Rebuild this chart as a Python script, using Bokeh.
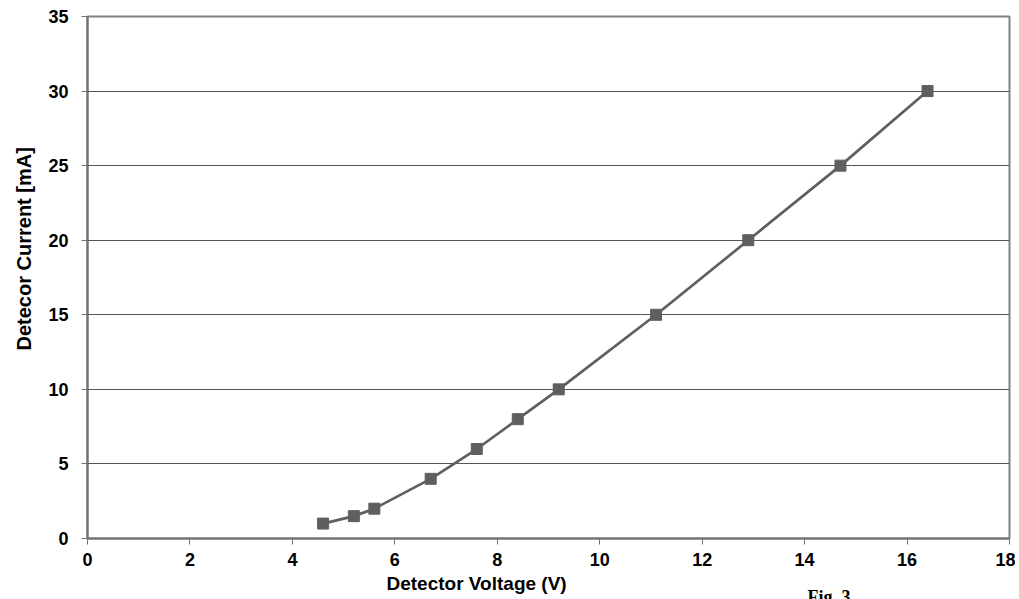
from bokeh.plotting import figure
from bokeh.models import Range1d, FixedTicker, Title
from bokeh.embed import file_html
from bokeh.resources import INLINE

voltage = [4.6, 5.2, 5.6, 6.7, 7.6, 8.4, 9.2, 11.1, 12.9, 14.7, 16.4]
current = [1, 1.5, 2, 4, 6, 8, 10, 15, 20, 25, 30]
x_ticks = [0, 2, 4, 6, 8, 10, 12, 14, 16, 18]
y_ticks = [0, 5, 10, 15, 20, 25, 30, 35]

W = 1015
H = 599
FL, FT, FB, FR = 86, 16, 538, 1009  # frame edges on the page

p = figure(width=W, height=H, output_backend="svg", toolbar_location=None,
           x_range=Range1d(0, 18), y_range=Range1d(0, 35),
           min_border_left=FL, min_border_top=FT, min_border_right=W - FR,
           min_border_bottom=H - FB)

p.line(voltage, current, line_color="#5f5f5f", line_width=2.7)
p.scatter(voltage, current, marker="square", size=11, fill_color="#5f5f5f", line_color="#5f5f5f")

p.outline_line_color = "#808080"
p.outline_line_width = 2

p.xgrid.grid_line_color = None
p.ygrid.grid_line_color = "#555555"
p.ygrid.grid_line_width = 1

p.xaxis.ticker = FixedTicker(ticks=x_ticks)
p.yaxis.ticker = FixedTicker(ticks=y_ticks)
for ax in (p.xaxis[0], p.yaxis[0]):
    ax.axis_line_color = "#707070"
    ax.axis_line_width = 2
    ax.major_tick_line_color = "#707070"
    ax.major_tick_out = 6
    ax.major_tick_in = 0
    ax.minor_tick_line_color = None
    ax.major_label_text_font = "Liberation Sans"
    ax.major_label_text_font_style = "bold"
    ax.major_label_text_font_size = "18px"
    ax.major_label_text_color = "black"

p.xaxis.major_label_standoff = 8
p.yaxis.major_label_standoff = 13

p.add_layout(Title(text="Detector Voltage (V)", align="left", offset=385 - FL,
                   standoff=4, text_font="Liberation Sans", text_font_style="bold",
                   text_font_size="19px", text_color="black"), "below")
p.add_layout(Title(text="Fig. 3", align="left", offset=806 - FL, standoff=-22,
                   text_font="Liberation Serif", text_font_style="bold",
                   text_font_size="18px", text_color="black"), "below")
p.add_layout(Title(text="Detecor Current [mA]", align="left", offset=FB - 350,
                   standoff=21, text_font="Liberation Sans", text_font_style="bold",
                   text_font_size="20px", text_color="black"), "left")

open("out.html", "w").write(file_html(p, INLINE))
